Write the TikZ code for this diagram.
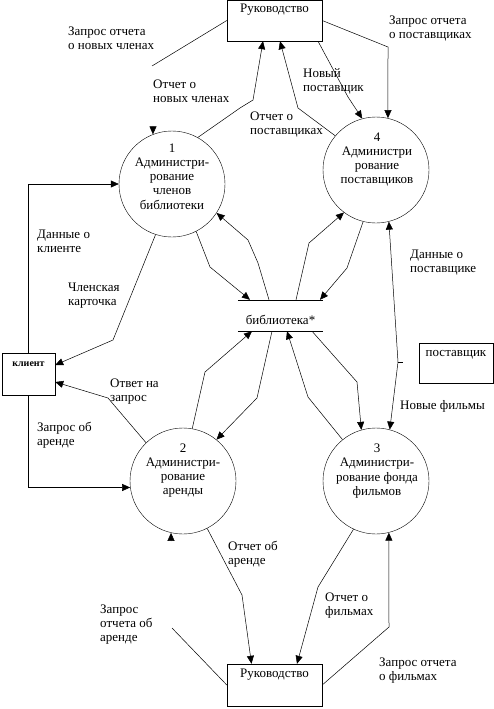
\documentclass[tikz,border=0pt]{standalone}
\usepackage{fontspec}
\setmainfont{Liberation Serif}
\usetikzlibrary{arrows.meta}

\begin{document}
\begin{tikzpicture}[x=1pt, y=-1pt,
    process/.style ={circle, draw, minimum size=106pt, inner sep=0pt},
    proctext/.style ={align=center, inner sep=0pt, font=\fontsize{13}{14.2}\selectfont},
    entity/.style ={rectangle, draw, inner sep=0pt, font=\fontsize{13}{14}\selectfont},
    store/.style ={rectangle, inner sep=0pt, minimum width=85pt, text height=24pt, text depth=7pt, font=\fontsize{13}{14}\selectfont},
    note/.style ={anchor=north west, align=left, inner sep=0pt, font=\fontsize{13}{14}\selectfont},
    line/.style ={line width=0.5pt},
    flow/.style ={line width=0.5pt, -{Triangle[length=8pt,width=7pt]}}]
   \useasboundingbox (0,0) rectangle (494,709);

   % processes
   \node[process] (c1) at (172,184) {};
   \node[process] (c4) at (376,170) {};
   \node[process] (c2) at (183,481) {};
   \node[process] (c3) at (376,481) {};
   \node[proctext] (t1) at (172,176.5) {1\\Администри-\\рование\\членов\\библиотеки};
   \node[proctext] (t4) at (377,159.5) {4\\Администри\\рование\\поставщиков};
   \node[proctext] (t2) at (183,470.5) {2\\Администри-\\рование\\аренды};
   \node[proctext] (t3) at (377,471) {3\\Администри-\\рование фонда\\фильмов};

   % external entities and store
   \node[entity, minimum width=95pt, text height=13pt, text depth=28pt] (bosstop) at (274.5,20.5) {Руководство};
   \node[entity, minimum width=95pt, text height=13pt, text depth=29pt] (bossbot) at (274.5,685) {Руководство};
   \node[entity, minimum width=53pt, text height=13pt, text depth=29pt, font=\fontsize{10}{12}\selectfont\bfseries] (client) at (28.5,374) {клиент};
   \node[entity, minimum width=74pt, text height=13pt, text depth=27pt] (supplier) at (456,363) {поставщик};
   \node[store] (store) at (280.5,315.5) {библиотека*};
   \draw[line] (store.north west) -- (store.north east);
   \draw[line] (store.south west) -- (store.south east);

   % top flows
   \coordinate (q1) at (152,66);
   \coordinate (q1tip) at (153,126);
   \draw[line] (bosstop.west) -- (q1);
   \draw[flow] (q1tip) -- (c1.111);
   \draw[flow] (c1.61) -- (240,108) -- (253,100) -- ([xshift=-11.5pt]bosstop.south);
   \draw[flow] (c4.140) -- (298,108) -- ([xshift=5.5pt]bosstop.south);
   \draw[flow] ([xshift=43.5pt]bosstop.south) -- (348,97) -- (c4.105);
   \draw[flow] (bosstop.east) -- (388,47) -- (c4.77);

   % store flows
   \draw[flow] (c1.-63) -- (210,267) -- ([xshift=-30.5pt]store.north);
   \draw[flow] ([xshift=-11.5pt]store.north) -- (258,263) -- (248,240) -- (c1.-33);
   \draw[flow] ([xshift=15.5pt]store.north) -- (309,243) -- (c4.-127);
   \draw[flow] (c4.-104) -- (347,268) -- ([xshift=39.5pt]store.north);
   \draw[flow] ([xshift=31.5pt]store.south) -- (357,382) -- (c3.106);
   \draw[flow] (c3.129) -- (308,397) -- ([xshift=6.5pt]store.south);
   \draw[flow] ([xshift=-8.5pt]store.south) -- (257,398) -- (c2.51);
   \draw[flow] (c2.80) -- (205,372) -- ([xshift=-28.5pt]store.south);

   % client flows
   \draw[flow] (c1.-108) -- (113,340) -- ([yshift=9pt]client.east);
   \draw[flow] (client.north) |- (c1.west);
   \draw[flow] (c2.134) -- (108,398) -- ([yshift=-8pt]client.east);
   \draw[flow] (client.south) |- (c2.-173);

   % supplier
   \coordinate (j) at (398,362);
   \coordinate (jtick) at (403,362);
   \draw[line, {Triangle[length=8pt,width=7pt]}-{Triangle[length=8pt,width=7pt]}] (c4.-76) -- (j) -- (c3.75);
   \draw[line] (j) -- (jtick);

   % bottom flows
   \coordinate (q2) at (172,628);
   \coordinate (q2tip) at (171,541);
   \draw[line] (bossbot.west) -- (q2);
   \draw[flow] (q2tip) -- (c2.-103);
   \draw[flow] (c2.-63) -- (242,595) -- ([xshift=-23pt]bossbot.north);
   \draw[flow] (c3.-115) -- (318,587) -- ([xshift=22.5pt]bossbot.north);
   \draw[flow] (bossbot.east) -- (389,627) -- (c3.-76);

   % labels
   \node[note] (n1) at (68,27) {Запрос отчета\\о новых членах};
   \node[note] (n2) at (153,80) {Отчет о\\ новых членах};
   \node[note] (n3) at (303,68) {Новый\\поставщик};
   \node[note] (n4) at (250,112) {Отчет о\\поставщиках};
   \node[note] (n5) at (389,16) {Запрос отчета\\о поставщиках};
   \node[note] (n6) at (37,230) {Данные о\\клиенте};
   \node[note] (n7) at (68,283) {Членская\\карточка};
   \node[note] (n8) at (110,379) {Ответ на\\запрос};
   \node[note] (n9) at (37,422) {Запрос об\\аренде};
   \node[note] (n10) at (410,250) {Данные о\\поставщике};
   \node[note] (n11) at (400,400) {Новые фильмы};
   \node[note] (n12) at (228,541) {Отчет об\\аренде};
   \node[note] (n13) at (100,605) {Запрос\\отчета об\\аренде};
   \node[note] (n14) at (325,593) {Отчет о\\фильмах};
   \node[note] (n15) at (379,658) {Запрос отчета\\о фильмах};
 \end{tikzpicture}
\end{document}
